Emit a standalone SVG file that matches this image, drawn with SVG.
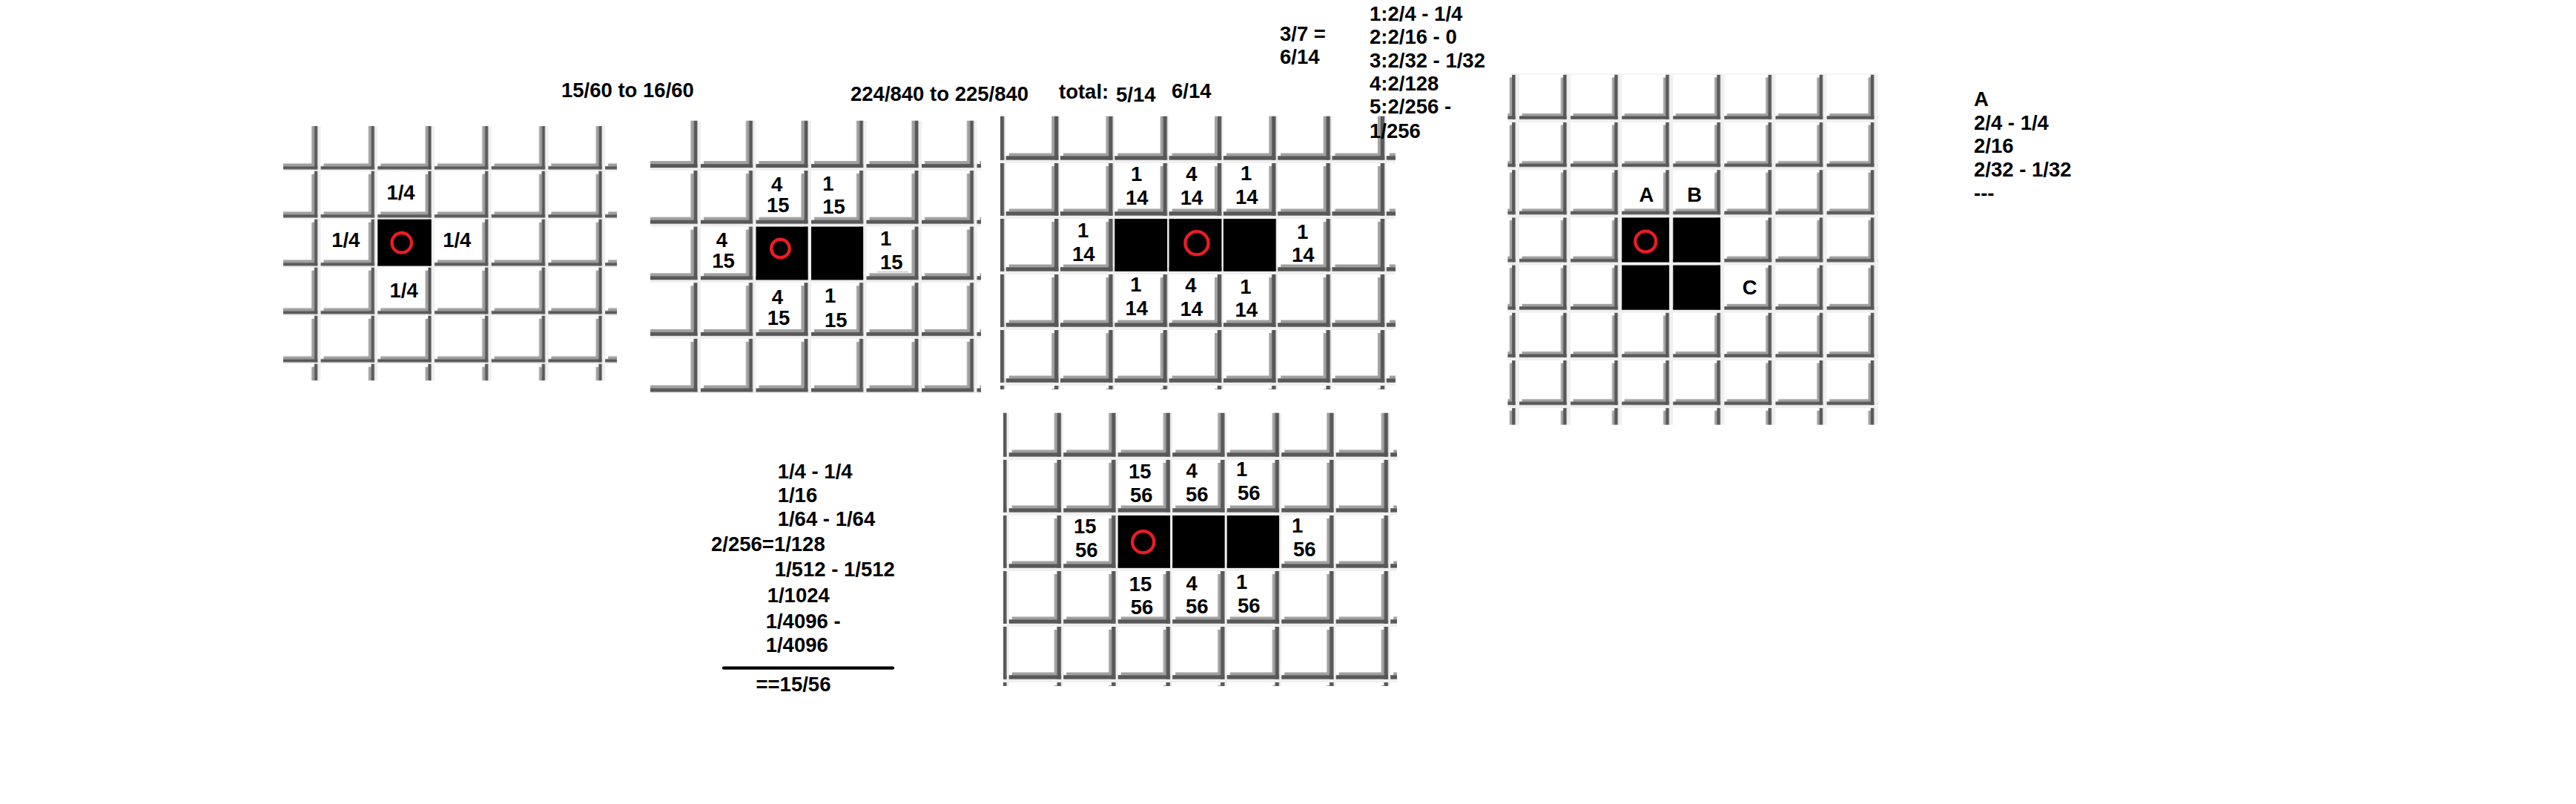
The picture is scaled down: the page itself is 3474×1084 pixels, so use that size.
<svg xmlns="http://www.w3.org/2000/svg" width="3474" height="1084" viewBox="0 0 3474 1084">
<style>
.t{font-family:"Liberation Sans",Arial,sans-serif;font-weight:bold;font-size:27.5px;fill:#000}
.m{text-anchor:middle}
.blk{fill:#000}
.ring{fill:none;stroke:#ed1c24;stroke-width:4.3}
.dk{fill:#585858}
.lt{fill:#a0a0a0}
.gp{fill:#f0f0f0}
.wh{fill:#fff}
</style>
<defs>
<pattern id="p1" patternUnits="userSpaceOnUse" x="509.3" y="230.7" width="76.7" height="65">
<rect class="gp" width="76.7" height="65"/><rect class="wh" width="72.3" height="62.7"/>
<rect class="lt" x="64.3" y="4" width="3.7" height="54.4"/><rect class="lt" x="4" y="54.7" width="64" height="3.7"/>
<rect class="dk" x="68" width="4.3" height="62.7"/><rect class="dk" y="58.4" width="72.3" height="4.3"/>
</pattern>
<pattern id="p2" patternUnits="userSpaceOnUse" x="945" y="230" width="74.5" height="75.6">
<rect class="gp" width="74.5" height="75.6"/><rect class="wh" width="70" height="71.7"/>
<rect class="lt" x="61" y="4" width="4" height="62.7"/><rect class="lt" x="4" y="62.7" width="61" height="4"/>
<rect class="dk" x="65" width="5" height="71.7"/><rect class="dk" y="66.7" width="70" height="5"/>
</pattern>
<pattern id="p3" patternUnits="userSpaceOnUse" x="1356.7" y="220" width="73.3" height="75">
<rect class="gp" width="73.3" height="75"/><rect class="wh" width="70.7" height="70.7"/>
<rect class="lt" x="61.5" y="4" width="3.7" height="61.2"/><rect class="lt" x="4" y="61.5" width="61.2" height="3.7"/>
<rect class="dk" x="65.2" width="5.5" height="70.7"/><rect class="dk" y="65.2" width="70.7" height="5.5"/>
</pattern>
<pattern id="p4" patternUnits="userSpaceOnUse" x="1360.7" y="620" width="73.5" height="75">
<rect class="gp" width="73.5" height="75"/><rect class="wh" width="70.3" height="70.7"/>
<rect class="lt" x="61.1" y="4" width="3.7" height="61.2"/><rect class="lt" x="4" y="61.5" width="60.8" height="3.7"/>
<rect class="dk" x="64.8" width="5.5" height="70.7"/><rect class="dk" y="65.2" width="70.3" height="5.5"/>
</pattern>
<pattern id="p5" patternUnits="userSpaceOnUse" x="2049" y="165" width="69.1" height="64.2">
<rect class="gp" width="69.1" height="64.2"/><rect class="wh" width="63.7" height="60"/>
<rect class="lt" x="55.9" y="3.5" width="3.3" height="52"/><rect class="lt" x="3.5" y="52.2" width="55.7" height="3.3"/>
<rect class="dk" x="59.2" width="4.5" height="60"/><rect class="dk" y="55.5" width="63.7" height="4.5"/>
</pattern>
</defs>
<rect width="3474" height="1084" fill="#fff"/>

<g id="grid1">
<rect x="382" y="170" width="450" height="343" fill="url(#p1)"/>
<rect class="blk" x="509.3" y="295.7" width="72.3" height="62.7"/>
<circle class="ring" cx="541.7" cy="327.3" r="13.3"/>
<text class="t m" x="540.5" y="269.3">1/4</text>
<text class="t m" x="466.3" y="332.7">1/4</text>
<text class="t m" x="616.3" y="332.7">1/4</text>
<text class="t m" x="544.7" y="401">1/4</text>
</g>

<g id="grid2">
<rect x="877" y="162.7" width="446" height="367.3" fill="url(#p2)"/>
<rect class="blk" x="1019.5" y="305.6" width="70" height="71.7"/>
<rect class="blk" x="1094" y="305.6" width="70" height="71.7"/>
<circle class="ring" cx="1052.4" cy="335" r="12.3"/>
<text class="t m" x="1047.7" y="258.3">4</text>
<text class="t m" x="1049.2" y="285.7">15</text>
<text class="t" x="1109.3" y="256.7">1</text>
<text class="t" x="1109.3" y="288.3">15</text>
<text class="t m" x="973.3" y="333.3">4</text>
<text class="t m" x="975.5" y="361">15</text>
<text class="t" x="1187" y="330.7">1</text>
<text class="t" x="1187" y="362.7">15</text>
<line x1="1182.7" y1="366.7" x2="1225" y2="366.7" stroke="#b4b4b4" stroke-width="1"/>
<text class="t m" x="1048.3" y="410">4</text>
<text class="t m" x="1050" y="438.3">15</text>
<text class="t" x="1112" y="408.3">1</text>
<text class="t" x="1112" y="440.7">15</text>
</g>

<g id="grid3">
<rect x="1349" y="156.7" width="533" height="368.3" fill="url(#p3)"/>
<rect class="blk" x="1503.3" y="295" width="70.7" height="70.7"/>
<rect class="blk" x="1576.6" y="295" width="70.7" height="70.7"/>
<rect class="blk" x="1649.9" y="295" width="70.7" height="70.7"/>
<circle class="ring" cx="1614" cy="327.7" r="15.6"/>
<text class="t m" x="1532.7" y="244">1</text><text class="t m" x="1533.3" y="276">14</text>
<text class="t m" x="1607" y="244">4</text><text class="t m" x="1607" y="276">14</text>
<text class="t m" x="1680.7" y="243.3">1</text><text class="t m" x="1681.3" y="275">14</text>
<text class="t m" x="1460.7" y="320">1</text><text class="t m" x="1461.3" y="351.7">14</text>
<text class="t m" x="1756.7" y="321.7">1</text><text class="t m" x="1757.3" y="353.3">14</text>
<text class="t m" x="1532" y="393.3">1</text><text class="t m" x="1532.7" y="425">14</text>
<text class="t m" x="1606" y="394">4</text><text class="t m" x="1606.7" y="425.7">14</text>
<text class="t m" x="1680" y="396">1</text><text class="t m" x="1680.7" y="427.3">14</text>
</g>

<g id="grid4">
<rect x="1353" y="556.7" width="531" height="368.3" fill="url(#p4)"/>
<rect class="blk" x="1507.7" y="695" width="70.3" height="70.7"/>
<rect class="blk" x="1581.2" y="695" width="70.3" height="70.7"/>
<rect class="blk" x="1654.7" y="695" width="70.3" height="70.7"/>
<circle class="ring" cx="1541.7" cy="730.7" r="14.6"/>
<text class="t" x="1522" y="645">15</text><text class="t" x="1524" y="676.7">56</text>
<text class="t" x="1599.5" y="644">4</text><text class="t" x="1599" y="676">56</text>
<text class="t" x="1667" y="642.3">1</text><text class="t" x="1669" y="674.3">56</text>
<text class="t" x="1448" y="719.3">15</text><text class="t" x="1450" y="751">56</text>
<text class="t" x="1742" y="718.3">1</text><text class="t" x="1744" y="750">56</text>
<text class="t" x="1522.7" y="797.3">15</text><text class="t" x="1524.7" y="828.3">56</text>
<text class="t" x="1599.5" y="796">4</text><text class="t" x="1599" y="827.3">56</text>
<text class="t" x="1667" y="794">1</text><text class="t" x="1669" y="825.7">56</text>
</g>

<g id="grid5">
<rect x="2033.3" y="99.3" width="499.2" height="473.4" fill="url(#p5)"/>
<rect class="blk" x="2187.2" y="293.4" width="63.7" height="60"/>
<rect class="blk" x="2256.3" y="293.4" width="63.7" height="60"/>
<rect class="blk" x="2187.2" y="357.6" width="63.7" height="60"/>
<rect class="blk" x="2256.3" y="357.6" width="63.7" height="60"/>
<circle class="ring" cx="2219.3" cy="325.6" r="14"/>
<text class="t m" x="2220.5" y="271.7">A</text>
<text class="t m" x="2285.3" y="271.7">B</text>
<text class="t m" x="2359.7" y="396.7">C</text>
</g>

<g id="titles">
<text class="t" x="757" y="131">15/60 to 16/60</text>
<text class="t" x="1147" y="136">224/840 to 225/840</text>
<text class="t" x="1428" y="133.3">total:</text>
<text class="t" x="1505" y="136.7">5/14</text>
<text class="t" x="1580" y="131.7">6/14</text>
<text class="t" x="1726" y="55">3/7 =</text>
<text class="t" x="1726" y="86">6/14</text>
</g>

<g id="list-top">
<text class="t" x="1847" y="28.3">1:2/4 - 1/4</text>
<text class="t" x="1847" y="59.3">2:2/16 - 0</text>
<text class="t" x="1847" y="90.7">3:2/32 - 1/32</text>
<text class="t" x="1847" y="121.7">4:2/128</text>
<text class="t" x="1847" y="153.3">5:2/256 -</text>
<text class="t" x="1847" y="186">1/256</text>
</g>

<g id="sum">
<text class="t" x="1048.7" y="645">1/4 - 1/4</text>
<text class="t" x="1048.7" y="676.7">1/16</text>
<text class="t" x="1048.7" y="709.3">1/64 - 1/64</text>
<text class="t" x="959" y="743.3">2/256=1/128</text>
<text class="t" x="1044.7" y="776.7">1/512 - 1/512</text>
<text class="t" x="1034.7" y="811.7">1/1024</text>
<text class="t" x="1032.7" y="847.3">1/4096 -</text>
<text class="t" x="1032.7" y="879.3">1/4096</text>
<line x1="976" y1="900.7" x2="1204" y2="900.7" stroke="#000" stroke-width="4.3" stroke-linecap="round"/>
<text class="t" x="1019.5" y="931.7">==15/56</text>
</g>

<g id="list-right">
<text class="t" x="2662" y="142.7">A</text>
<text class="t" x="2662" y="174.7">2/4 - 1/4</text>
<text class="t" x="2662" y="206">2/16</text>
<text class="t" x="2662" y="238">2/32 - 1/32</text>
<text class="t" x="2662" y="269.7">---</text>
</g>
</svg>
